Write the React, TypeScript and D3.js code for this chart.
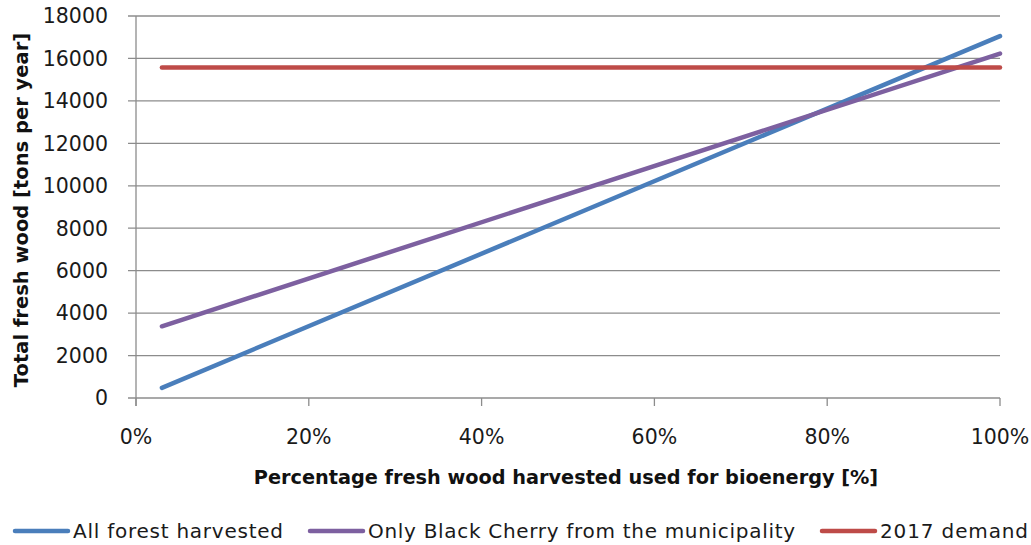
import React from "react";
import * as d3 from "d3";

const W = 1031;
const H = 545;

// Share of harvested fresh wood used for bioenergy (%)
const xPercent = [3, 100];
// Total fresh wood (tons per year)
const allForest = [480, 17050];
const blackCherry = [3380, 16230];
const demand2017 = [15570, 15570];

const yTicks = [0, 2000, 4000, 6000, 8000, 10000, 12000, 14000, 16000, 18000];
const xTicks = [0, 20, 40, 60, 80, 100];

const seriesNames = ["All forest harvested", "Only Black Cherry from the municipality", "2017 demand"];
const seriesColors = ["#4a7ebb", "#7d60a0", "#be4b48"];

const FONT = "'DejaVu Sans', Verdana, sans-serif";

export default function App() {
  const x = d3.scaleLinear().domain([0, 100]).range([136, 1000]);
  const y = d3.scaleLinear().domain([0, 18000]).range([398, 16]);

  const series = [allForest, blackCherry, demand2017];
  const line = d3
    .line<[number, number]>()
    .x((d) => x(d[0]))
    .y((d) => y(d[1]));

  // Legend entries: line start x, text start x, text width
  const legendPos = [
    [15, 73, 210],
    [310, 368, 427],
    [822, 880, 148],
  ];
  const legendY = 531;

  return (
    <svg
      width={W}
      height={H}
      style={{ position: "absolute", left: 0, top: 0, background: "#fff" }}
      fontFamily={FONT}
    >
      {/* gridlines */}
      {yTicks.map((t) => (
        <line key={"g" + t} x1={128} x2={1000} y1={y(t)} y2={y(t)} stroke="#8c8c8c" strokeWidth={1.3} />
      ))}
      {/* y axis */}
      <line x1={136} x2={136} y1={y(18000)} y2={y(0) + 8} stroke="#8c8c8c" strokeWidth={1.3} />
      {/* x axis ticks */}
      {xTicks.map((t) => (
        <line key={"xt" + t} x1={x(t)} x2={x(t)} y1={y(0)} y2={y(0) + 8} stroke="#8c8c8c" strokeWidth={1.3} />
      ))}
      {/* y tick labels */}
      {yTicks.map((t) => (
        <text key={"yl" + t} x={108} y={y(t)} dy="0.36em" textAnchor="end" fontSize={20.5} fill="#1a1a1a">
          {t}
        </text>
      ))}
      {/* x tick labels */}
      {xTicks.map((t) => (
        <text key={"xl" + t} x={x(t)} y={437} dy="0.36em" textAnchor="middle" fontSize={20.5} fill="#1a1a1a">
          {t + "%"}
        </text>
      ))}
      {/* axis titles */}
      <text x={566} y={477} dy="0.36em" textAnchor="middle" fontSize={19.3} fontWeight="bold" fill="#111">
        Percentage fresh wood harvested used for bioenergy [%]
      </text>
      <text
        transform={`translate(21,${210}) rotate(-90)`}
        dy="0.36em"
        textAnchor="middle"
        fontSize={19.5}
        fontWeight="bold"
        fill="#111"
      >
        Total fresh wood [tons per year]
      </text>
      {/* series */}
      {series.map((vals, i) => (
        <path
          key={"s" + i}
          d={line(xPercent.map((p, j) => [p, vals[j]] as [number, number])) || ""}
          fill="none"
          stroke={seriesColors[i]}
          strokeWidth={4.5}
          strokeLinecap="round"
        />
      ))}
      {/* legend */}
      {seriesNames.map((name, i) => (
        <g key={"lg" + i}>
          <line
            x1={legendPos[i][0]}
            x2={legendPos[i][1] - 5}
            y1={legendY}
            y2={legendY}
            stroke={seriesColors[i]}
            strokeWidth={4.5}
            strokeLinecap="round"
          />
          <text
            x={legendPos[i][1]}
            y={legendY}
            dy="0.36em"
            fontSize={20}
            fill="#1a1a1a"
            textLength={legendPos[i][2]}
            lengthAdjust="spacing"
          >
            {name}
          </text>
        </g>
      ))}
    </svg>
  );
}
